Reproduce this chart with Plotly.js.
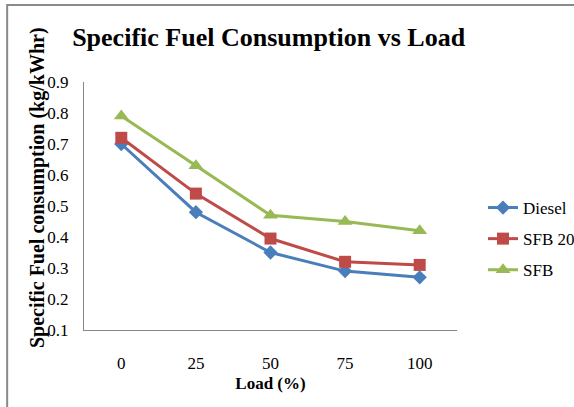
<!DOCTYPE html>
<html>
<head>
<meta charset="utf-8">
<script src="https://cdn.plot.ly/plotly-3.0.1.min.js"></script>
<style>html,body{margin:0;padding:0;background:#fff;overflow:hidden}#chart{width:574px;height:407px}</style>
</head>
<body>
<div id="chart"></div>
<script>
var loads = ["0", "25", "50", "75", "100"];
var diesel = [0.70, 0.48, 0.35, 0.29, 0.27];
var sfb20 = [0.72, 0.54, 0.395, 0.32, 0.31];
var sfb = [0.79, 0.63, 0.47, 0.45, 0.42];
var yTicks = [0.1, 0.2, 0.3, 0.4, 0.5, 0.6, 0.7, 0.8, 0.9];

var serif = "Liberation Serif, Times New Roman, serif";
function tr(name, y, color, symbol, size) {
  return {
    x: loads, y: y, name: name, type: "scatter", mode: "lines+markers",
    line: {color: color, width: 3},
    marker: {color: color, symbol: symbol, size: size},
    legendgroup: name
  };
}
var data = [
  tr("Diesel", diesel, "#4A7EBB", "diamond", 11),
  tr("SFB 20", sfb20, "#BE4B48", "square", 12),
  tr("SFB", sfb, "#98B954", "triangle-up", 13)
];
var layout = {
  width: 574, height: 407,
  margin: {l: 84, r: 117, t: 82, b: 77, autoexpand: false},
  paper_bgcolor: "#fff", plot_bgcolor: "#fff",
  font: {family: serif, size: 16, color: "#000"},
  title: {text: "<b>Specific Fuel Consumption vs Load</b>", font: {family: serif, size: 26, color: "#000"},
          x: 0.495, xref: "paper", xanchor: "center", y: 0.91, yref: "container", yanchor: "middle"},
  xaxis: {type: "category", range: [-0.5, 4.5], showgrid: false, zeroline: false,
          showline: true, linecolor: "#868686", linewidth: 1,
          ticks: "outside", ticklen: 18, tickcolor: "rgba(0,0,0,0)", tickfont: {family: serif, size: 17},
          title: {text: "<b>Load (%)</b>", font: {family: serif, size: 17}, standoff: 4}},
  yaxis: {range: [0.1, 0.9], tickvals: yTicks, ticktext: yTicks.map(function(v){return v.toFixed(1);}),
          showgrid: false, zeroline: false, showline: true, linecolor: "#868686", linewidth: 1,
          ticks: "outside", ticklen: 11, tickcolor: "rgba(0,0,0,0)", tickfont: {family: serif, size: 17}},
  legend: {x: 1.0697, y: 0.367, xanchor: "left", yanchor: "middle", traceorder: "grouped", tracegroupgap: 6,
           font: {family: serif, size: 17}, bgcolor: "rgba(0,0,0,0)"},
  annotations: [{text: "<b>Specific Fuel consumption (kg/kWhr)</b>", textangle: -90, showarrow: false,
                 xref: "paper", yref: "paper", x: (37 - 84) / 373, y: (330 - 188) / 248,
                 xanchor: "center", yanchor: "middle", font: {family: serif, size: 20, color: "#000"}}],
  shapes: [{type: "rect", xref: "paper", yref: "paper", x0: -0.206, x1: 1.35, y0: -0.35, y1: 1.31,
            line: {color: "#8a8a8a", width: 2}, fillcolor: "rgba(0,0,0,0)", layer: "below"}]
};
Plotly.newPlot("chart", data, layout, {displayModeBar: false, staticPlot: true});
</script>
</body>
</html>
